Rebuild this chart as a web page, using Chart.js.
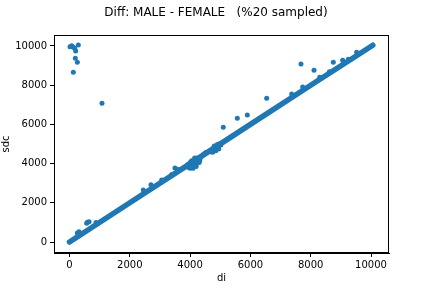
<!DOCTYPE html>
<html>
<head>
<meta charset="utf-8">
<script src="https://cdn.jsdelivr.net/npm/chart.js@4/dist/chart.umd.min.js"></script>
<style>
html,body{margin:0;padding:0;background:#fff;}
#wrap{width:432px;height:288px;position:relative;}
</style>
</head>
<body>
<div id="wrap"><canvas id="c" width="432" height="288"></canvas></div>
<script>
// Dense diagonal band (sdc ~ di)
const bandX = [0, 2000, 4000, 6000, 8000, 10060];
const bandY = [0, 2000, 4000, 6000, 8000, 10040];

// Clusters along the band around di ~ 4000 and ~ 4850
const blobX = [3880, 3950, 4000, 4100, 4200, 3930, 4000, 4100, 4200, 4300, 4000, 4080, 4160, 4240, 4320, 4050, 4150, 4250, 4150, 4230, 4330, 4680, 4750, 4850, 4950, 4750, 4850, 4950, 5020, 4800, 4900, 4980, 4450, 4520];
const blobY = [3850, 3800, 3760, 3760, 3850, 3950, 3920, 3900, 3960, 4050, 4050, 4020, 4060, 4100, 4150, 4150, 4150, 4200, 4280, 4290, 4260, 4600, 4580, 4650, 4750, 4720, 4820, 4880, 4950, 4900, 4980, 5010, 4480, 4560];

// Scattered points off the band
const outX = [17, 72, 127, 172, 205, 293, 193, 260, 127, 1078, 6540, 7678, 8110, 8750, 9060, 9525, 7370, 7735, 5100, 5566, 5897, 2448, 2703, 3058, 3499, 3390, 591, 647, 570, 260, 315, 8620, 9250, 880, 3600, 8300];
const outY = [9965, 10015, 9930, 9880, 9745, 10050, 9370, 9170, 8660, 7075, 7330, 9080, 8760, 9170, 9270, 9680, 7550, 7910, 5850, 6310, 6480, 2653, 2925, 3163, 3770, 3450, 1003, 1037, 953, 460, 525, 8680, 9320, 1000, 3700, 8400];

const xTicks = [0, 2000, 4000, 6000, 8000, 10000];
const yTicks = [0, 2000, 4000, 6000, 8000, 10000];

const blue = '#1f77b4';
const FONT = 'DejaVu Sans';

const toPts = (xs, ys) => xs.map((x, i) => ({x: x, y: ys[i]}));

const frame = {
  id: 'frame',
  afterDatasetsDraw(chart) {
    const a = chart.chartArea, ctx = chart.ctx;
    ctx.save();
    ctx.strokeStyle = '#000';
    ctx.lineWidth = 1;
    ctx.strokeRect(Math.round(a.left) + 0.5, Math.round(a.top) + 0.5, Math.round(a.right - a.left) - 1, Math.round(a.bottom - a.top) - 1);
    ctx.restore();
  }
};

new Chart(document.getElementById('c'), {
  type: 'scatter',
  data: {
    datasets: [
      {data: toPts(bandX, bandY), showLine: true, borderColor: blue, borderWidth: 5.5, borderCapStyle: 'round', pointRadius: 0, backgroundColor: blue},
      {data: toPts(blobX, blobY), pointRadius: 2.5, pointBorderWidth: 0, backgroundColor: blue, borderColor: blue},
      {data: toPts(outX, outY), pointRadius: 2.5, pointBorderWidth: 0, backgroundColor: blue, borderColor: blue}
    ]
  },
  plugins: [frame],
  options: {
    responsive: false,
    animation: false,
    events: [],
    layout: {padding: {left: 0, right: 0, top: 0, bottom: 0}},
    plugins: {
      legend: {display: false},
      tooltip: {enabled: false},
      title: {
        display: true,
        text: 'Diff: MALE - FEMALE   (%20 sampled)',
        color: '#000',
        font: {family: FONT, size: 12, weight: 'normal', lineHeight: 1.2},
        padding: {top: 6, bottom: 14.6}
      }
    },
    scales: {
      x: {
        type: 'linear',
        min: -514, max: 10597,
        afterBuildTicks: s => { s.ticks = xTicks.map(v => ({value: v})); },
        afterFit: s => { s.height = 35; s.paddingLeft = 0; s.paddingRight = 0; },
        grid: {drawOnChartArea: false, drawTicks: true, tickLength: 4, color: '#000', tickWidth: 1},
        border: {display: true, color: '#000'},
        ticks: {color: '#000', font: {family: FONT, size: 10}, padding: 2, maxRotation: 0, autoSkip: false, callback: v => String(v)},
        title: {display: true, text: 'di', color: '#000', font: {family: FONT, size: 10}, padding: {top: 0, bottom: 4}}
      },
      y: {
        type: 'linear',
        min: -561, max: 10561,
        afterBuildTicks: s => { s.ticks = yTicks.map(v => ({value: v})); },
        afterFit: s => { s.width = 54; s.paddingTop = 0; s.paddingBottom = 0; },
        grid: {drawOnChartArea: false, drawTicks: true, tickLength: 4, color: '#000', tickWidth: 1},
        border: {display: true, color: '#000'},
        ticks: {color: '#000', font: {family: FONT, size: 10}, padding: 3, autoSkip: false, callback: v => String(v)},
        title: {display: true, text: 'sdc', color: '#000', font: {family: FONT, size: 10}, padding: {top: 0, bottom: 0}}
      },
      yr: {
        type: 'linear',
        position: 'right',
        display: true,
        min: 0, max: 1,
        afterBuildTicks: s => { s.ticks = []; },
        afterFit: s => { s.width = 43; s.paddingTop = 0; s.paddingBottom = 0; },
        grid: {display: false, drawTicks: false},
        border: {display: false},
        ticks: {display: false},
        title: {display: false}
      }
    }
  }
});
</script>
</body>
</html>
